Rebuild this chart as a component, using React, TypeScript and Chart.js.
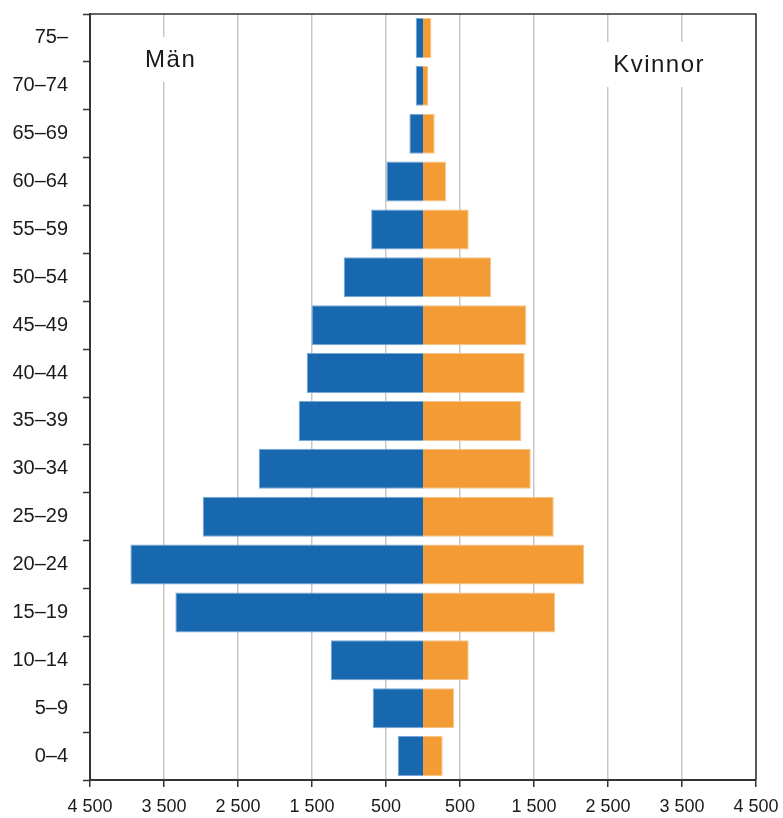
import React, { useEffect, useRef } from "react";
import { Chart, registerables } from "chart.js";

Chart.register(...registerables);

const ageGroups = ["0–4", "5–9", "10–14", "15–19", "20–24", "25–29", "30–34", "35–39", "40–44", "45–49", "50–54", "55–59", "60–64", "65–69", "70–74", "75–"];
const men = [342, 680, 1247, 3346, 3954, 2977, 2220, 1680, 1572, 1504, 1072, 701, 495, 184, 99, 99];
const women = [266, 420, 618, 1785, 2177, 1767, 1456, 1330, 1375, 1397, 920, 618, 312, 158, 73, 114];
const xTickValues = [-4500, -3500, -2500, -1500, -500, 500, 1500, 2500, 3500, 4500];
const seriesNames = ["Män", "Kvinnor"];

const FONT = "'Liberation Sans', Arial, sans-serif";
const TEXT = "#1a1a1a";
const AXIS = "#333333";

function fmt(v: number): string {
  const a = Math.abs(v);
  const s = String(a);
  return s.length > 3 ? s.slice(0, s.length - 3) + " " + s.slice(-3) : s;
}

const sideLabels = {
  id: "sideLabels",
  beforeDatasetsDraw(chart: any) {
    const { ctx, scales } = chart;
    const x = scales.x;
    const y = scales.y;
    ctx.save();
    ctx.font = `24px ${FONT}`;
    ctx.textAlign = "center";
    ctx.textBaseline = "middle";
    const items = [
      { text: seriesNames[0], cx: x.getPixelForValue(-3420), cy: y.top + 46, sp: 1.5 },
      { text: seriesNames[1], cx: x.getPixelForValue(3180), cy: y.top + 51, sp: 1.5 },
    ];
    for (const it of items) {
      (ctx as any).letterSpacing = it.sp + "px";
      const w = ctx.measureText(it.text).width;
      ctx.fillStyle = "#ffffff";
      ctx.fillRect(it.cx - w / 2 - 8, it.cy - 23, w + 16, 45);
      ctx.fillStyle = TEXT;
      ctx.fillText(it.text, it.cx + it.sp / 2, it.cy);
    }
    ctx.restore();
  },
  afterDraw(chart: any) {
    const { ctx, chartArea } = chart;
    ctx.save();
    ctx.strokeStyle = AXIS;
    ctx.lineWidth = 1.5;
    ctx.beginPath();
    ctx.moveTo(chartArea.left, chartArea.top);
    ctx.lineTo(chartArea.right, chartArea.top);
    ctx.lineTo(chartArea.right, chartArea.bottom);
    ctx.stroke();
    ctx.restore();
  },
};

export default function App() {
  const ref = useRef<HTMLCanvasElement>(null);
  useEffect(() => {
    if (!ref.current) return;
    const chart = new Chart(ref.current, {
      type: "bar",
      data: {
        labels: ageGroups,
        datasets: [
          {
            label: seriesNames[0],
            data: men.map((v) => -v),
            backgroundColor: "#1868b0",
            borderColor: "#78a8d8",
            borderWidth: 1,
            barPercentage: 0.835,
            categoryPercentage: 1,
          },
          {
            label: seriesNames[1],
            data: women,
            backgroundColor: "#f39c35",
            borderColor: "#f8c487",
            borderWidth: 1,
            barPercentage: 0.835,
            categoryPercentage: 1,
          },
        ],
      },
      options: {
        indexAxis: "y",
        responsive: false,
        animation: false,
        layout: { padding: { top: 14, right: 27, left: 0, bottom: 0 } },
        plugins: { legend: { display: false }, tooltip: { enabled: false } },
        scales: {
          x: {
            stacked: true,
            min: -4500,
            max: 4500,
            afterBuildTicks: (scale: any) => {
              scale.ticks = xTickValues.map((v) => ({ value: v }));
            },
            afterFit: (scale: any) => {
              scale.height = 38;
              scale.paddingLeft = 0;
              scale.paddingRight = 0;
            },
            grid: {
              color: "#c8c8c8",
              lineWidth: 1.5,
              tickColor: AXIS,
              tickLength: 7,
              tickWidth: 1.5,
            },
            border: { color: AXIS, width: 2 },
            ticks: {
              autoSkip: false,
              maxRotation: 0,
              padding: 9,
              color: TEXT,
              font: { family: FONT, size: 18 },
              callback: (v: any) => fmt(Number(v)),
            },
          },
          y: {
            stacked: true,
            reverse: true,
            afterFit: (scale: any) => {
              scale.width = 90;
              scale.paddingTop = 0;
              scale.paddingBottom = 0;
            },
            grid: {
              drawOnChartArea: false,
              tickColor: AXIS,
              tickLength: 7,
              tickWidth: 1.5,
            },
            border: { color: AXIS, width: 2 },
            ticks: {
              padding: 15,
              color: TEXT,
              font: { family: FONT, size: 20 },
            },
          },
        },
      },
      plugins: [sideLabels],
    } as any);
    return () => chart.destroy();
  }, []);
  return (
    <div style={{ position: "absolute", left: 0, top: 0, width: 783, height: 818, background: "#fff" }}>
      <canvas ref={ref} width={783} height={818} style={{ display: "block" }} />
    </div>
  );
}
